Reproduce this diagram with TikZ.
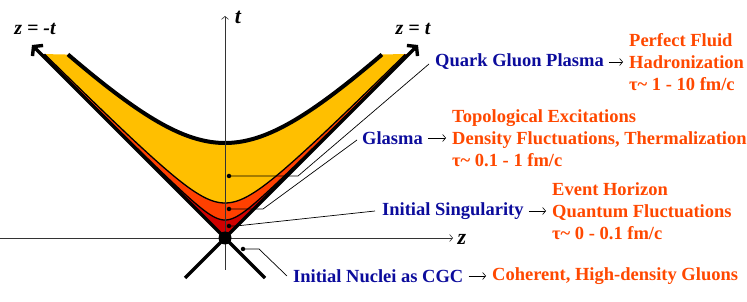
\documentclass[tikz,border=0pt]{standalone}
\usepackage{fontspec}
\setmainfont{Liberation Serif}
\usetikzlibrary{arrows.meta}
\definecolor{qblue}{HTML}{0C0C9C}
\definecolor{qorange}{HTML}{FF4800}
\definecolor{fyellow}{HTML}{FFBF00}
\definecolor{fred}{HTML}{FF4000}
\definecolor{fdark}{HTML}{D00000}
\tikzset{
  lbl/.style={font=\fontsize{18.5}{22}\selectfont\bfseries, text=qblue, anchor=west, inner sep=0pt},
  res/.style={font=\fontsize{18.5}{22}\selectfont\bfseries, text=qorange, anchor=west, inner sep=0pt, align=left},
  conn/.style={-{Straight Barb[length=3pt,width=7pt]}, line width=0.6pt, shorten <=5pt, shorten >=6pt},
  leader/.style={line width=0.7pt},
  dotmark/.style={circle, fill=black, inner sep=0pt, minimum size=4.5pt},
  cone/.style={line width=3.4pt, -{Straight Barb[length=6pt,width=15pt]}},
  axis/.style={line width=0.6pt, black!80, -{Straight Barb[length=3pt,width=7pt]}},
  ax/.style={font=\fontsize{22}{24}\selectfont\bfseries\itshape, inner sep=0pt}
}
\begin{document}
\begin{tikzpicture}[x=1pt,y=1pt]
\useasboundingbox (0,0) rectangle (747,302);
\begin{scope}[shift={(225,64)}]
  % fills
  \fill[fyellow] (0,0) -- (184,184) -- plot[domain=1.277:-1.277,samples=80] ({95*sinh(\x)},{95*cosh(\x)}) -- (-184,184) -- cycle;
  \fill[fred] (0,0) -- (184,184) -- plot[domain=2.343:-2.343,samples=120] ({35*sinh(\x)},{35*cosh(\x)}) -- (-184,184) -- cycle;
  \fill[fdark] (0,0) -- (184,184) -- plot[domain=3.013:-3.013,samples=160] ({18*sinh(\x)},{18*cosh(\x)}) -- (-184,184) -- cycle;
  % hyperbolas
  \draw[line width=1.3pt] plot[domain=-2.343:2.343,samples=120] ({35*sinh(\x)},{35*cosh(\x)});
  \draw[line width=1.3pt] plot[domain=-3.013:3.013,samples=160] ({18*sinh(\x)},{18*cosh(\x)});
  \draw[line width=4pt] plot[domain=-1.277:1.277,samples=80] ({95*sinh(\x)},{95*cosh(\x)});
  % axes
  \coordinate (tb) at (0,-32);
  \coordinate (tt) at (0,222);
  \coordinate (zl) at (-225,0);
  \coordinate (zr) at (228,0);
  \draw[axis] (tb) -- (tt);
  \draw[axis] (zl) -- (zr);
  % light cone
  \coordinate (lr) at (40,-40);
  \coordinate (ll) at (-40,-40);
  \coordinate (ul) at (-193,193);
  \coordinate (ur) at (193,193);
  \draw[cone] (lr) -- (ul);
  \draw[cone] (ll) -- (ur);
  \node[circle, fill=black, inner sep=0pt, minimum size=13pt] (origin) at (0,0) {};
  % dots
  \node[dotmark] (d1) at (4,62) {};
  \node[dotmark] (d2) at (4,29) {};
  \node[dotmark] (d3) at (4,12) {};
  \node[dotmark] (d4) at (18,-11) {};
\end{scope}
% axis labels
\node[ax] (tlab) at (238,285) {t};
\node[ax] (zlab) at (462,63) {z};
\node[ax, font=\fontsize{20}{22}\selectfont\bfseries\itshape] (zm) at (35,273) {z = -t};
\node[ax, font=\fontsize{20}{22}\selectfont\bfseries\itshape] (zp) at (413,273) {z = t};
% labels
\node[lbl] (qgp) at (435,240) {Quark Gluon Plasma};
\node[res] (qgpr) at (629,240) {Perfect Fluid\\Hadronization\\τ\char`~{} 1 - 10 fm/c};
\node[lbl] (gl) at (362,164) {Glasma};
\node[res] (glr) at (452,164) {Topological Excitations\\Density Fluctuations, Thermalization\\τ\char`~{} 0.1 - 1 fm/c};
\node[lbl] (sing) at (382,91) {Initial Singularity};
\node[res] (singr) at (552,91) {Event Horizon\\Quantum Fluctuations\\τ\char`~{} 0 - 0.1 fm/c};
\node[lbl] (cgc) at (293,26) {Initial Nuclei as CGC};
\node[res] (cgcr) at (492,26) {Coherent, High-density Gluons};
% arrows
\draw[conn] (qgp.east) -- (qgpr.west);
\draw[conn] (gl.east) -- (glr.west);
\draw[conn] (sing.east) -- (singr.west);
\draw[conn] (cgc.east) -- (cgcr.west);
% leaders
\draw[leader] (d1.center) -- ++(69,0) -- ([xshift=-6pt,yshift=-2pt]qgp.west);
\draw[leader] (d2.center) -- ++(34,0) -- ([xshift=-5pt,yshift=-2pt]gl.west);
\draw[leader] (d3.center) -- ++(7,0) -- ([xshift=-7pt,yshift=0pt]sing.west);
\draw[leader] (d4.center) -- ++(16,0) -- ([xshift=-6pt,yshift=0pt]cgc.west);
\end{tikzpicture}
\end{document}
